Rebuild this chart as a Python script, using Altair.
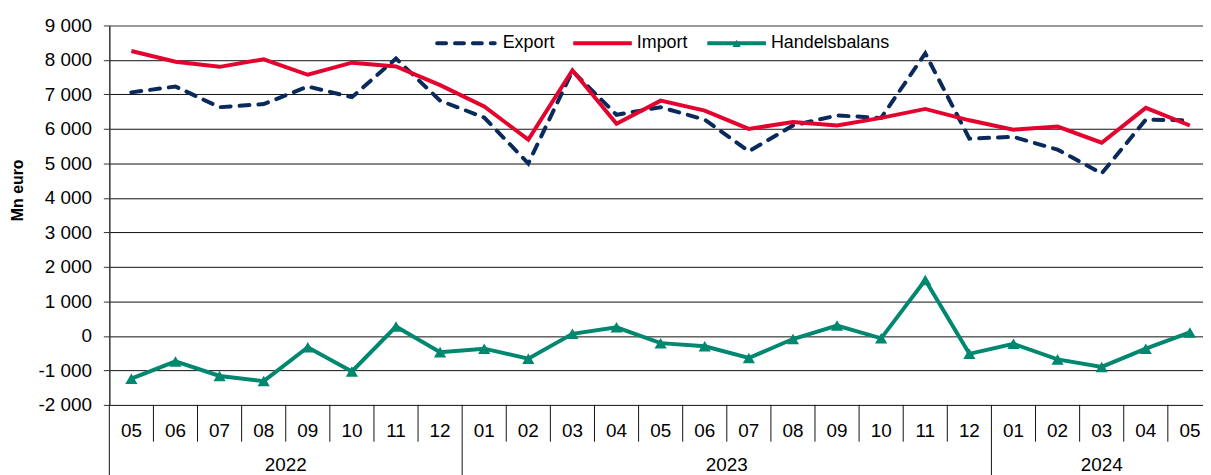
import altair as alt
import pandas as pd

# ---------------- data ----------------
months = ["05", "06", "07", "08", "09", "10", "11", "12",
          "01", "02", "03", "04", "05", "06", "07", "08", "09", "10", "11", "12",
          "01", "02", "03", "04", "05"]
years = ["2022"] * 8 + ["2023"] * 12 + ["2024"] * 5

export_vals = [7060, 7230, 6630, 6720, 7230, 6920, 8040, 6820,
               6330, 5000, 7680, 6410, 6630, 6270, 5350, 6100, 6390, 6320, 8190, 5720,
               5770, 5400, 4710, 6270, 6250]
import_vals = [8260, 7950, 7800, 8020, 7570, 7920, 7810, 7270,
               6650, 5690, 7700, 6150, 6820, 6530, 6000, 6200, 6100, 6320, 6580, 6250,
               5980, 6070, 5600, 6610, 6100]
balance_vals = [-1240, -740, -1160, -1310, -330, -1030, 270, -470,
                -370, -660, 60, 250, -210, -300, -640, -90, 300, -70, 1620, -520,
                -230, -680, -900, -370, 100]

y_ticks = list(range(-2000, 10000, 1000))
series_names = ["Export", "Import", "Handelsbalans"]
series_colors = ["#0b2a5c", "#e4032e", "#00876f"]
y_title = "Mn euro"

# ---------------- layout ----------------
BAND = 44.4
PLOT_W = 1101
PLOT_H = 382
FONT = "Liberation Sans"

n = len(months)
df = pd.DataFrame({
    "pos": [i + 0.5 for i in range(n)],
    "month": months,
    "year": years,
    "Export": export_vals,
    "Import": import_vals,
    "Handelsbalans": balance_vals,
})

# separators between months / years
bounds = []
for i in range(n):
    is_year = (i == 0) or (years[i] != years[i - 1])
    bounds.append({"b": i, "kind": "year" if is_year else "month"})
bounds_df = pd.DataFrame(bounds)

# year label centres
year_rows = []
for y in dict.fromkeys(years):
    idxs = [i for i, v in enumerate(years) if v == y]
    year_rows.append({"year": y, "pos": (idxs[0] + idxs[-1] + 1) / 2})
years_df = pd.DataFrame(year_rows)

x_scale = alt.Scale(domain=[0, PLOT_W / BAND], nice=False, zero=False)
y_scale = alt.Scale(domain=[-2000, 9000], nice=False, zero=False)
x_enc = alt.X("pos:Q", scale=x_scale, axis=None)

y_axis = alt.Axis(
    values=y_ticks,
    labelExpr="replace(replace(format(datum.value, ','), ',', ' '), '\u2212', '-')",
    title=None,
    grid=True,
    gridColor={"condition": {"test": "datum.value == 9000", "value": "#9a9a9a"}, "value": "#111111"},
    gridWidth={"condition": {"test": "datum.value == 9000", "value": 2}, "value": 1},
    domainColor="#333333",
    domainWidth=1.5,
    tickColor="#333333",
    tickSize=6,
    labelFontSize=19,
    labelFont=FONT,
    labelColor="#000000",
    labelPadding=12,
)


def y_enc(field):
    return alt.Y(f"{field}:Q", scale=y_scale, axis=y_axis)


base = alt.Chart(df)

export_line = base.mark_line(
    color=series_colors[0], strokeWidth=4, strokeDash=[10, 9], strokeCap="round"
).encode(x=x_enc, y=y_enc("Export"))

import_line = base.mark_line(color=series_colors[1], strokeWidth=4).encode(
    x=x_enc, y=y_enc("Import")
)

bal_line = base.mark_line(color=series_colors[2], strokeWidth=4).encode(
    x=x_enc, y=y_enc("Handelsbalans")
)
bal_pts = base.mark_point(
    shape="triangle-up", filled=True, size=150, opacity=1, color=series_colors[2]
).encode(x=x_enc, y=y_enc("Handelsbalans"))

# x-axis (two-level) drawn by hand
month_text = base.mark_text(
    font=FONT, fontSize=19, color="#000000", align="center", baseline="middle"
).encode(x=x_enc, y=alt.value(408), text="month:N")

year_text = alt.Chart(years_df).mark_text(
    font=FONT, fontSize=19, color="#000000", align="center", baseline="middle"
).encode(x=alt.X("pos:Q", scale=x_scale, axis=None), y=alt.value(443), text="year:N")

month_seps = alt.Chart(bounds_df).transform_filter("datum.kind == 'month'").mark_rule(
    color="#111111", strokeWidth=1
).encode(x=alt.X("b:Q", scale=x_scale, axis=None), y=alt.value(382), y2=alt.value(419))

year_seps = alt.Chart(bounds_df).transform_filter("datum.kind == 'year'").mark_rule(
    color="#111111", strokeWidth=1
).encode(x=alt.X("b:Q", scale=x_scale, axis=None), y=alt.value(382), y2=alt.value(455))

title_text = alt.Chart(pd.DataFrame({"t": [y_title]})).mark_text(
    font=FONT, fontSize=16, fontWeight="bold", angle=270, color="#000000",
    align="center", baseline="middle"
).encode(x=alt.value(-92), y=alt.value(166), text="t:N")

# legend drawn by hand
leg_df = pd.DataFrame({"name": series_names})
LEG_Y = 18
leg_items = [
    (0, 330, 388, 396, [9, 9]),
    (1, 467, 526, 531, None),
    (2, 602, 661, 666, None),
]
legend_layers = []
for k, x0, x1, xt, dash in leg_items:
    one = alt.Chart(leg_df).transform_filter(f"datum.name == '{series_names[k]}'")
    props = dict(color=series_colors[k], strokeWidth=4, strokeCap="round" if dash else "butt")
    if dash:
        props["strokeDash"] = dash
    legend_layers.append(
        one.mark_rule(**props).encode(x=alt.value(x0), x2=alt.value(x1), y=alt.value(LEG_Y))
    )
    legend_layers.append(
        one.mark_text(font=FONT, fontSize=18, color="#000000", align="left", baseline="middle").encode(
            x=alt.value(xt), y=alt.value(LEG_Y), text="name:N"
        )
    )
    if k == 2:
        legend_layers.append(
            one.mark_point(shape="triangle-up", filled=True, size=70, opacity=1,
                           color=series_colors[k]).encode(x=alt.value((x0 + x1) / 2), y=alt.value(LEG_Y))
        )

chart = alt.layer(
    export_line, import_line, bal_line, bal_pts,
    month_seps, year_seps, month_text, year_text, title_text,
    *legend_layers,
).properties(
    width=PLOT_W,
    height=PLOT_H,
    autosize=alt.AutoSizeParams(type="none"),
    padding={"left": 102, "top": 16, "right": 0, "bottom": 69},
    background="white",
).configure_view(stroke=None)

chart.save("out.html", embed_options={"renderer": "svg", "actions": False})
